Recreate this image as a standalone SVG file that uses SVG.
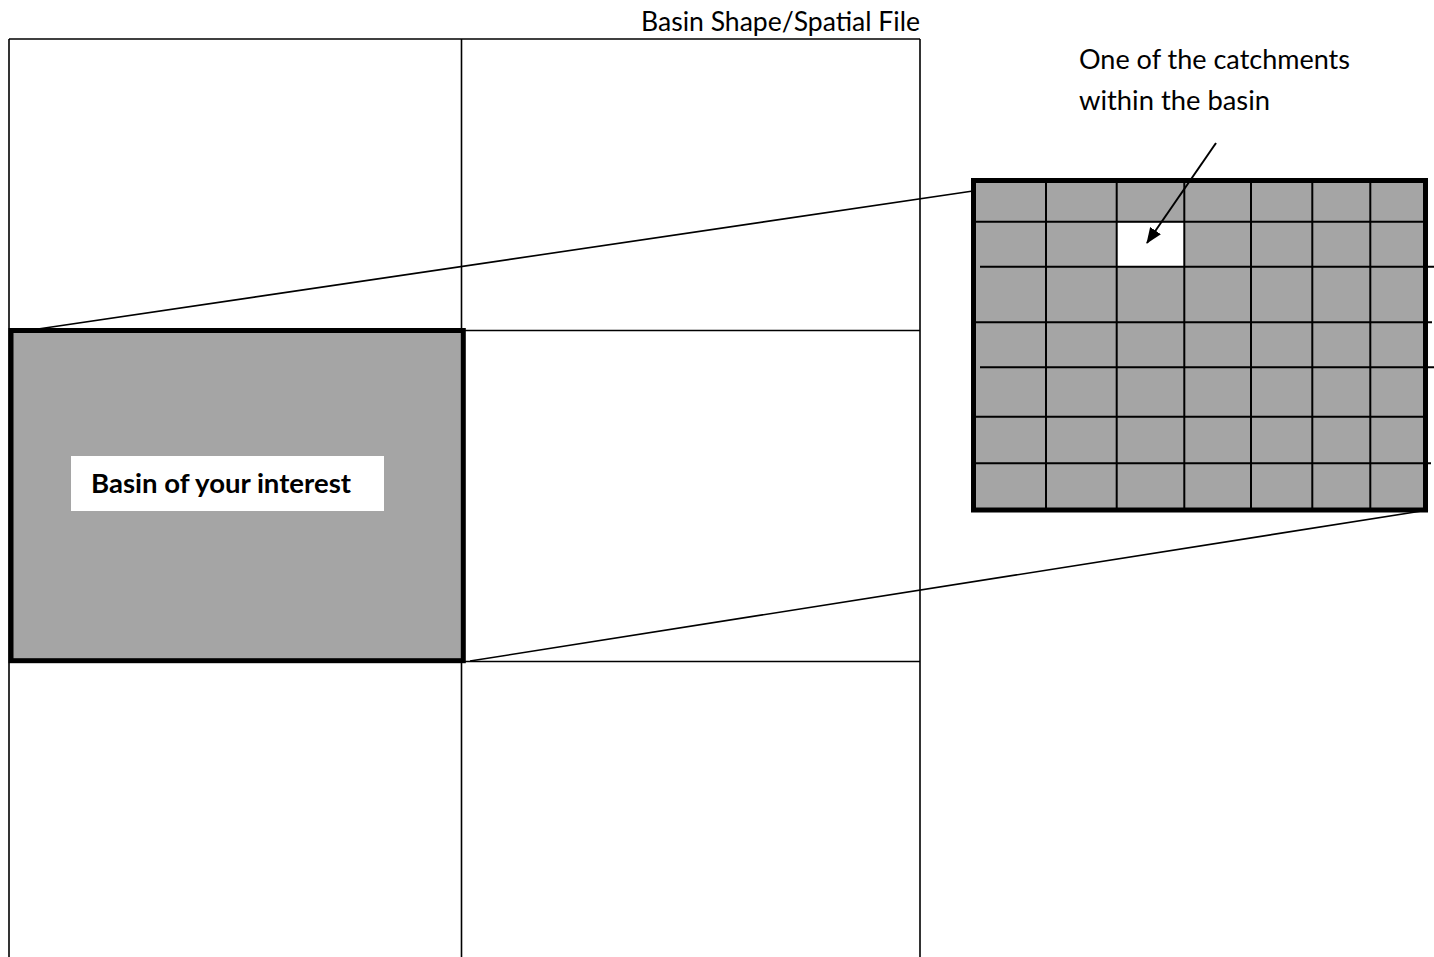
<svg xmlns="http://www.w3.org/2000/svg" width="1434" height="957" viewBox="0 0 1434 957">
<defs>
<style>
.thin{stroke:#000;stroke-width:2;fill:none}
.line{stroke:#000;stroke-width:1.6;fill:none}
.thick{stroke:#000;stroke-width:5;fill:#a5a5a5}
.lbl{font-family:Lato,"Liberation Sans",sans-serif;font-size:26px;fill:#000}
.bold{font-weight:bold}
</style>
<marker id="arr" markerWidth="16" markerHeight="14" refX="15" refY="6.5" orient="auto" markerUnits="userSpaceOnUse" viewBox="0 0 16 13">
<path d="M0,0 L16,6.5 L0,13 Z" fill="#000"/>
</marker>
</defs>
<rect width="1434" height="957" fill="#fff"/>

<g id="spatial-file">
<line class="line" x1="9" y1="39" x2="920" y2="39"/>
<line class="line" x1="9" y1="39" x2="9" y2="957"/>
<line class="line" x1="461.5" y1="39" x2="461.5" y2="957"/>
<line class="line" x1="920" y1="39" x2="920" y2="957"/>
<line class="line" x1="9" y1="330.5" x2="920" y2="330.5"/>
<line class="line" x1="9" y1="661.5" x2="920" y2="661.5"/>
<text class="lbl" x="641" y="31" textLength="279" lengthAdjust="spacingAndGlyphs">Basin Shape/Spatial File</text>
</g>

<g id="basin">
<rect class="thick" x="11" y="330.5" width="452.3" height="330.2"/>
<rect x="71" y="456" width="313" height="55" fill="#fff"/>
<text class="lbl bold" x="91" y="493" textLength="260" lengthAdjust="spacingAndGlyphs">Basin of your interest</text>
</g>

<g id="catchments">
<rect class="thick" x="973.5" y="180.5" width="452" height="329.5"/>
<rect x="1117" y="222.5" width="67" height="44" fill="#fff"/>
<g class="thin">
<line x1="1046" y1="180" x2="1046" y2="510"/>
<line x1="1116.7" y1="180" x2="1116.7" y2="510"/>
<line x1="1184.3" y1="180" x2="1184.3" y2="510"/>
<line x1="1251" y1="180" x2="1251" y2="510"/>
<line x1="1312.3" y1="180" x2="1312.3" y2="510"/>
<line x1="1370.3" y1="180" x2="1370.3" y2="510"/>
<line x1="976" y1="221.7" x2="1424" y2="221.7"/>
<line x1="980" y1="266.7" x2="1434" y2="266.7"/>
<line x1="976" y1="322.3" x2="1432" y2="322.3"/>
<line x1="980" y1="367.3" x2="1434" y2="367.3"/>
<line x1="976" y1="416.7" x2="1424" y2="416.7"/>
<line x1="976" y1="463.3" x2="1431" y2="463.3"/>
</g>
<text class="lbl" x="1079" y="69" textLength="271" lengthAdjust="spacingAndGlyphs">One of the catchments</text>
<text class="lbl" x="1079" y="110" textLength="191" lengthAdjust="spacingAndGlyphs">within the basin</text>
</g>

<g id="connectors">
<line class="line" x1="38" y1="329" x2="973" y2="191"/>
<line class="line" x1="470" y1="661" x2="1428" y2="510"/>
<line x1="1216" y1="143" x2="1147" y2="243" stroke="#000" stroke-width="2" marker-end="url(#arr)"/>
</g>
</svg>
